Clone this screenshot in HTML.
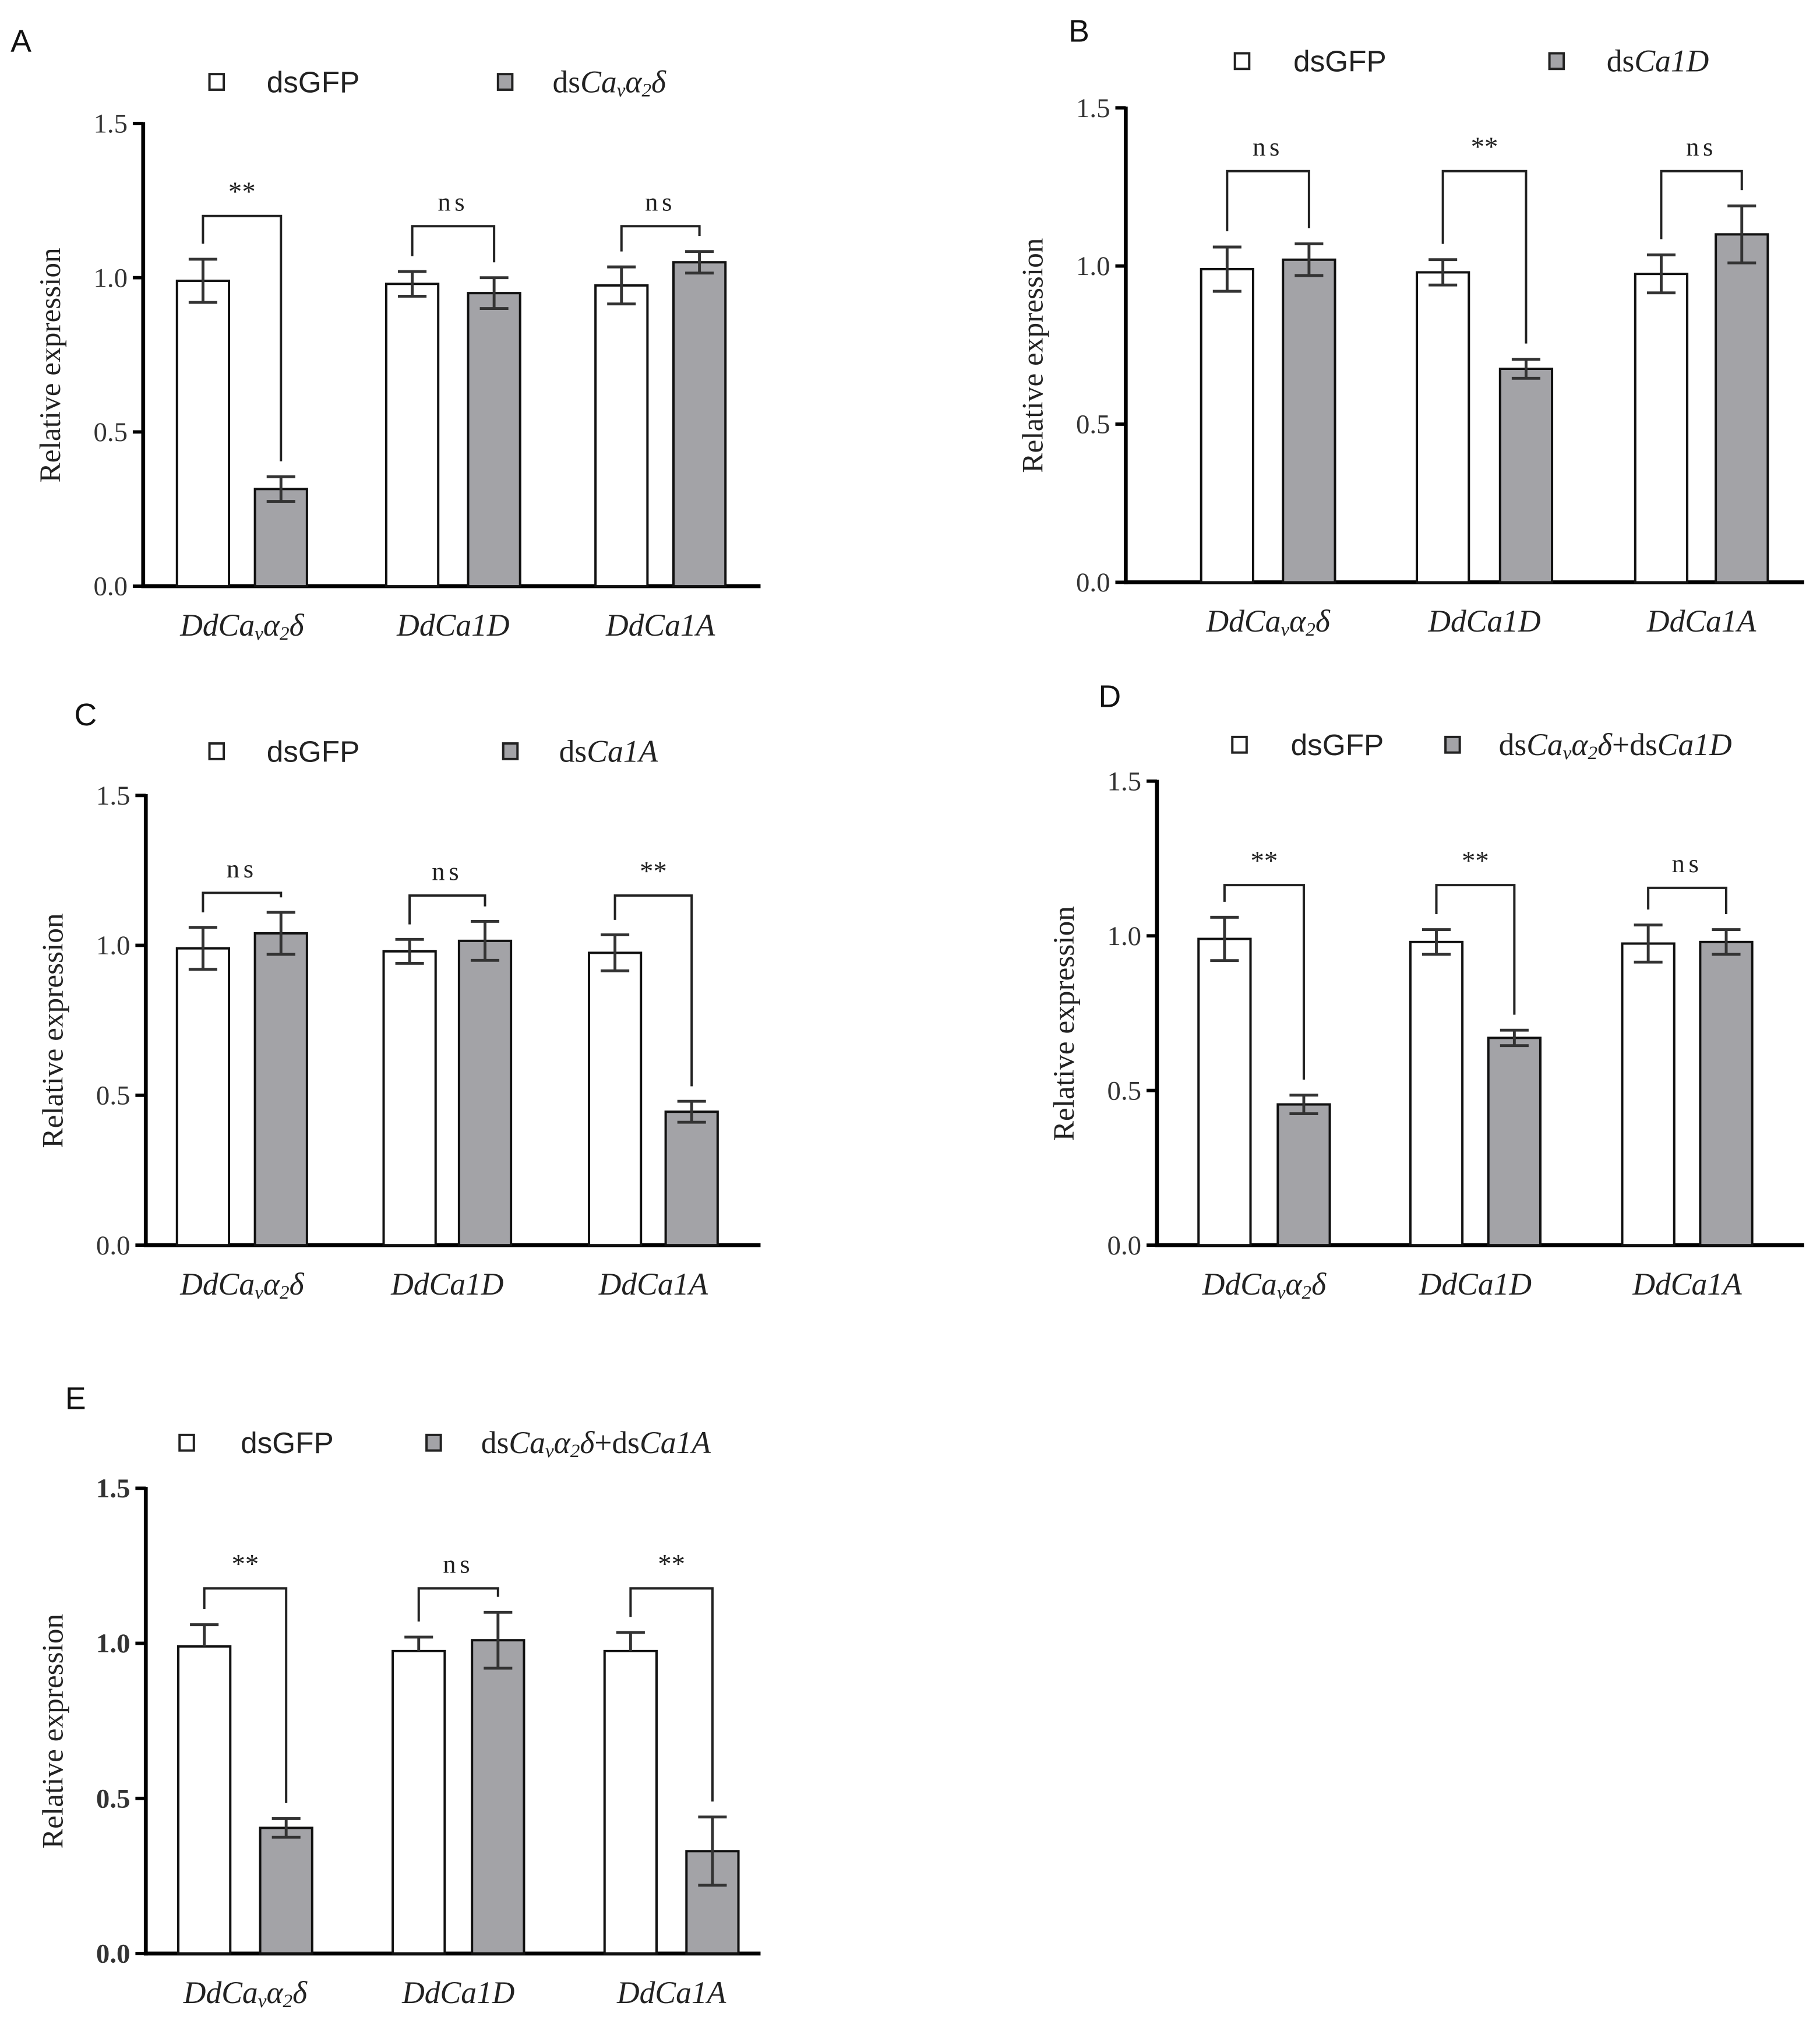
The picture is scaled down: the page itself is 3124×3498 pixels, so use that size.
<!DOCTYPE html>
<html><head><meta charset="utf-8"><style>
html,body{margin:0;padding:0;background:#fff;}
svg{display:block;}
</style></head><body>
<svg id="fig" xmlns="http://www.w3.org/2000/svg" width="3124" height="3498" viewBox="0 0 1400 1568">
<rect width="1400" height="1568" fill="#fff"/>
</svg>
<script>
// Data arrays
const categories = ["DdCaVa2d", "DdCa1D", "DdCa1A"];
const yTicks = [0, 0.5, 1.0, 1.5];
const yTickLabels = ["0.0", "0.5", "1.0", "1.5"];
const aWhite = [0.99, 0.98, 0.975];
const aWhiteErr = [0.07, 0.04, 0.06];
const aGray = [0.315, 0.95, 1.05];
const aGrayErr = [0.04, 0.05, 0.035];
const aSig = ["**", "ns", "ns"];
const aBracket = [1.2, 1.167, 1.167];
const bWhite = [0.99, 0.98, 0.975];
const bWhiteErr = [0.07, 0.04, 0.06];
const bGray = [1.02, 0.675, 1.10];
const bGrayErr = [0.05, 0.03, 0.09];
const bSig = ["ns", "**", "ns"];
const bBracket = [1.3, 1.3, 1.3];
const cWhite = [0.99, 0.98, 0.975];
const cWhiteErr = [0.07, 0.04, 0.06];
const cGray = [1.04, 1.015, 0.445];
const cGrayErr = [0.07, 0.065, 0.035];
const cSig = ["ns", "ns", "**"];
const cBracket = [1.175, 1.166, 1.166];
const dWhite = [0.99, 0.98, 0.975];
const dWhiteErr = [0.07, 0.04, 0.06];
const dGray = [0.455, 0.67, 0.98];
const dGrayErr = [0.03, 0.025, 0.04];
const dSig = ["**", "**", "ns"];
const dBracket = [1.164, 1.164, 1.155];
const eWhite = [0.99, 0.975, 0.975];
const eWhiteErr = [0.07, 0.045, 0.06];
const eGray = [0.405, 1.01, 0.33];
const eGrayErr = [0.03, 0.09, 0.11];
const eSig = ["**", "ns", "**"];
const eBracket = [1.177, 1.177, 1.177];

const NS = "http://www.w3.org/2000/svg";
const svg = document.getElementById("fig");
const SERIF = '"Liberation Serif", serif';
const SANS = '"Liberation Sans", sans-serif';
const GRAY = "#a3a3a7";

function mk(tag, attrs, parent) {
  const el = document.createElementNS(NS, tag);
  for (const k in attrs) el.setAttribute(k, attrs[k]);
  (parent || svg).appendChild(el);
  return el;
}

function greekLabel(t, fs, prefix) {
  const sp = (s, extra) => { const e = mk("tspan", extra || {}, t); e.textContent = s; return e; };
  sp("Ca", {"font-style": "italic"});
  sp("v", {"font-style": "italic", "font-size": fs * 0.62, "baseline-shift": "-22%"});
  sp("α", {"font-style": "italic"});
  sp("2", {"font-style": "italic", "font-size": fs * 0.62, "baseline-shift": "-22%"});
  sp("δ", {"font-style": "italic"});
}

function catLabel(g, i, x, y, fs) {
  const t = mk("text", {x: x, y: y, "text-anchor": "middle", "font-family": SERIF, "font-size": fs, "font-style": "italic", fill: "#222"}, g);
  
  
  if (i === 0) {
    const a = mk("tspan", {}, t); a.textContent = "Dd";
    greekLabel(t, fs);
  } else {
    t.textContent = categories[i];
  }
}

function legendText(g, x, y, kind) {
  const fs = 24;
  const t = mk("text", {x: x, y: y, "font-family": SERIF, "font-size": fs, fill: "#222"}, g);
  
  
  const it = (s) => { const sp = mk("tspan", {"font-style": "italic"}, t); sp.textContent = s; };
  const pl = (s) => { const sp = mk("tspan", {}, t); sp.textContent = s; };
  if (kind === "gfp") { t.setAttribute("font-family", SANS); t.setAttribute("font-size", 23); t.textContent = "dsGFP"; return; }
  pl("ds");
  if (kind === "cav" || kind === "cav1d" || kind === "cav1a") {
    greekLabel(t, fs);
    if (kind === "cav1d") { pl("+ds"); it("Ca1D"); }
    if (kind === "cav1a") { pl("+ds"); it("Ca1A"); }
  } else if (kind === "1d") it("Ca1D");
  else if (kind === "1a") it("Ca1A");
}

function panel(p) {
  const g = mk("g", {});
  
  
  const unit = (p.y0 - p.y15) / 1.5;
  const yS = (v) => p.y0 - v * unit;
  const L = mk("text", {x: p.lx, y: p.ly, "font-family": SANS, "font-size": 24, fill: "#111"}, g);
  
  
  L.textContent = p.letter;
  const lw = mk("rect", {x: p.leg[0] - 5, y: p.leg[1] - 6, width: 11, height: 12, fill: "#fff", stroke: "#222", "stroke-width": 1.8}, g);
  
  
  legendText(g, p.leg[2], p.leg[1] + 8, "gfp");
  const lg = mk("rect", {x: p.leg[3] - 5, y: p.leg[1] - 6, width: 11, height: 12, fill: GRAY, stroke: "#222", "stroke-width": 1.8}, g);
  
  
  legendText(g, p.leg[4], p.leg[1] + 8, p.kind);
  const ya = mk("line", {x1: p.ax, y1: p.y15 - 1, x2: p.ax, y2: p.y0 + 1.5, stroke: "#000", "stroke-width": 3}, g);
  
  
  const xa = mk("line", {x1: p.ax - 1.5, y1: p.y0, x2: p.xend, y2: p.y0, stroke: "#000", "stroke-width": 3}, g);
  
  
  yTicks.forEach((v, i) => {
    const tk = mk("line", {x1: p.ax - 8, y1: yS(v), x2: p.ax, y2: yS(v), stroke: "#000", "stroke-width": 2.6}, g);
    
    
    const tl = mk("text", {x: p.ax - 12, y: yS(v) + 7, "text-anchor": "end", "font-family": SERIF, "font-size": 21, "font-weight": p.bold ? "bold" : "normal", fill: "#333"}, g);
    
    
    tl.textContent = yTickLabels[i];
  });
  const yt = mk("text", {x: 0, y: 0, transform: `translate(${p.ax - 64},${(p.y15 + p.y0) / 2 + 8}) rotate(-90)`, "text-anchor": "middle", "font-family": SERIF, "font-size": 23, fill: "#222"}, g);
  
  
  yt.textContent = "Relative expression";
  for (let i = 0; i < 3; i++) {
    const wx = p.wx[i], gx = p.gx[i], bw = 40;
    const wb = mk("rect", {x: wx, y: yS(p.white[i]), width: bw, height: yS(0) - yS(p.white[i]), fill: "#fff", stroke: "#111", "stroke-width": 1.8}, g);
    
    
    const gb = mk("rect", {x: gx, y: yS(p.gray[i]), width: bw, height: yS(0) - yS(p.gray[i]), fill: GRAY, stroke: "#111", "stroke-width": 1.8}, g);
    
    
    const eb = (cx, v, e, upOnly) => {
      const lo = upOnly ? v : v - e;
      const ev = mk("line", {x1: cx, y1: yS(v + e), x2: cx, y2: yS(lo), stroke: "#333", "stroke-width": 2.2}, g);
      
      
      const c1 = mk("line", {x1: cx - 11, y1: yS(v + e), x2: cx + 11, y2: yS(v + e), stroke: "#333", "stroke-width": 2.2}, g);
      
      
      if (!upOnly) {
        const c2 = mk("line", {x1: cx - 11, y1: yS(v - e), x2: cx + 11, y2: yS(v - e), stroke: "#333", "stroke-width": 2.2}, g);
        
        
      }
    };
    eb(wx + bw / 2, p.white[i], p.whiteErr[i], p.upOnly);
    eb(gx + bw / 2, p.gray[i], p.grayErr[i], false);
    const lx = wx + bw / 2, rx = gx + bw / 2, by = yS(p.bracket[i]);
    const lEnd = yS(p.white[i] + p.whiteErr[i] + 0.05);
    const rEnd = yS(p.gray[i] + p.grayErr[i] + 0.05);
    const br = mk("polyline", {points: `${lx},${lEnd} ${lx},${by} ${rx},${by} ${rx},${rEnd}`, fill: "none", stroke: "#222", "stroke-width": 1.8}, g);
    
    
    const st = mk("text", {x: (lx + rx) / 2, y: by - 12, "text-anchor": "middle", "font-family": SERIF, "font-size": p.sig[i] === "**" ? 21 : 20, "letter-spacing": p.sig[i] === "ns" ? 3 : 0, fill: "#222"}, g);
    
    
    st.textContent = p.sig[i];
    catLabel(g, i, (lx + rx) / 2, p.y0 + 38, 24);
  }
}

panel({letter: "A", lx: 8, ly: 40, kind: "cav", leg: [166, 63, 205, 388, 425], ax: 110, y15: 95, y0: 451, xend: 585,
  wx: [136, 297, 458], gx: [196, 360, 518], white: aWhite, whiteErr: aWhiteErr, gray: aGray, grayErr: aGrayErr, sig: aSig, bracket: aBracket});
panel({letter: "B", lx: 822, ly: 32, kind: "1d", leg: [955, 47, 995, 1197, 1236], ax: 866, y15: 83, y0: 448, xend: 1388,
  wx: [924, 1090, 1258], gx: [987, 1154, 1320], white: bWhite, whiteErr: bWhiteErr, gray: bGray, grayErr: bGrayErr, sig: bSig, bracket: bBracket});
panel({letter: "C", lx: 57, ly: 558, kind: "1a", leg: [166, 578, 205, 392, 430], ax: 112, y15: 612, y0: 958, xend: 585,
  wx: [136, 295, 453], gx: [196, 353, 512], white: cWhite, whiteErr: cWhiteErr, gray: cGray, grayErr: cGrayErr, sig: cSig, bracket: cBracket});
panel({letter: "D", lx: 845, ly: 544, kind: "cav1d", leg: [953, 573, 993, 1117, 1153], ax: 890, y15: 601, y0: 958, xend: 1388,
  wx: [922, 1085, 1248], gx: [983, 1145, 1308], white: dWhite, whiteErr: dWhiteErr, gray: dGray, grayErr: dGrayErr, sig: dSig, bracket: dBracket});
panel({letter: "E", lx: 50, ly: 1084, kind: "cav1a", leg: [143, 1110, 185, 333, 370], ax: 112, y15: 1145, y0: 1503, xend: 585,
  wx: [137, 302, 465], gx: [200, 363, 528], white: eWhite, whiteErr: eWhiteErr, gray: eGray, grayErr: eGrayErr, sig: eSig, bracket: eBracket, bold: true, upOnly: true});
</script>
</body></html>
